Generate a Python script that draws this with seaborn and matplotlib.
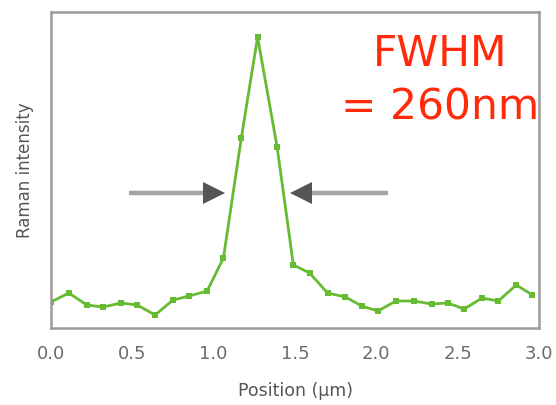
import numpy as np
import pandas as pd
import matplotlib
matplotlib.use("Agg")
import matplotlib.pyplot as plt
import seaborn as sns

# line profile across the peak (position in um, intensity in arbitrary units)
position = [0.00, 0.11, 0.22, 0.32, 0.43, 0.53, 0.64, 0.75, 0.85, 0.96,
            1.06, 1.17, 1.27, 1.39, 1.49, 1.59, 1.70, 1.81, 1.91, 2.01,
            2.12, 2.23, 2.34, 2.44, 2.54, 2.65, 2.75, 2.86, 2.96]
intensity = [26, 35, 23, 21, 25, 23, 13, 28, 32, 37,
             70, 190, 291, 181, 63, 55, 35, 31, 22, 17,
             27, 27, 24, 25, 19, 30, 27, 43, 33]
xticks = [0.0, 0.5, 1.0, 1.5, 2.0, 2.5, 3.0]
fwhm_label = "FWHM\n= 260nm"

# arrows marking the half-maximum width
arrow_y = 135
left_arrow = (0.48, 1.07)
right_arrow = (2.07, 1.47)

df = pd.DataFrame({"Position": position, "Intensity": intensity})

sns.set_style("white")
plt.rcParams["font.family"] = ["DejaVu Sans"]

fig = plt.figure(figsize=(5.56, 4.05), dpi=100)
ax = fig.add_axes([51 / 556, 77 / 405, 488 / 556, 316 / 405])

green = "#66bb33"
spine_col = "#9e9a97"

sns.lineplot(data=df, x="Position", y="Intensity", ax=ax, color=green,
             linewidth=2.0, marker="s", markersize=4.5, markeredgewidth=0)

head_len = 0.13
for (start, tip) in (left_arrow, right_arrow):
    d = np.sign(tip - start)
    base = tip - d * head_len
    ax.plot([start, base], [arrow_y, arrow_y], color="#a3a3a3", linewidth=3.2,
            solid_capstyle="butt", zorder=3)
    ax.plot([tip - d * head_len / 2], [arrow_y], marker=">" if d > 0 else "<",
            markersize=16, color="#555555", markeredgewidth=0, zorder=4)

ax.text(0.797, 0.934, fwhm_label, transform=ax.transAxes, ha="center", va="top",
        fontsize=30.5, color="#ff2a0a", linespacing=1.36)

ax.set_xlim(0, 3)
ax.set_ylim(0, 316)
ax.set_xticks(xticks)
ax.set_xticklabels([f"{t:.1f}" for t in xticks])
ax.set_yticks([])
ax.tick_params(axis="x", direction="in", length=11.5, width=1.5, color=spine_col,
               labelsize=13, labelcolor="#6b6b6b", pad=12)
ax.set_xlabel("Position (\u00b5m)", fontsize=12.5, color="#555555", labelpad=14)
ax.set_ylabel("Raman intensity", fontsize=12, color="#555555", labelpad=12)
for s in ax.spines.values():
    s.set_color(spine_col)
    s.set_linewidth(1.8)

fig.savefig("out.png", dpi=100)
